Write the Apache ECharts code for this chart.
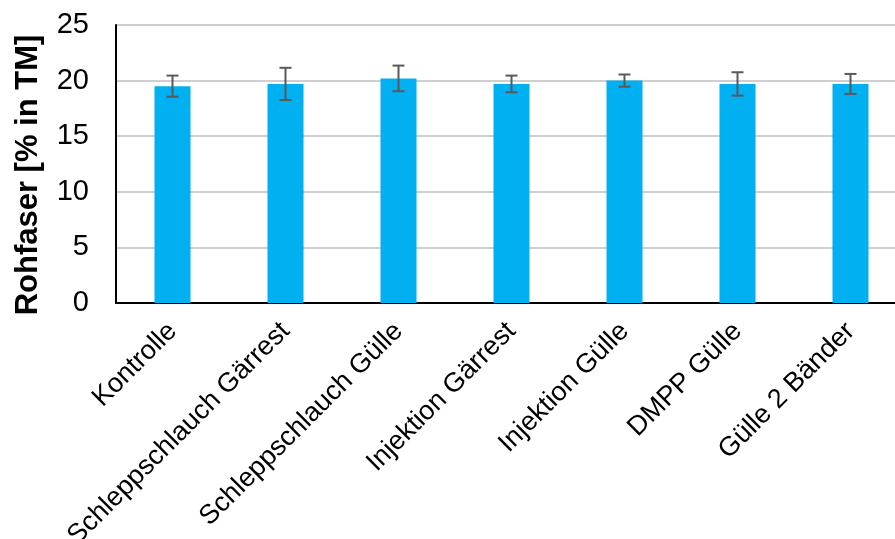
<!DOCTYPE html>
<html>
<head>
<meta charset="utf-8">
<script src="https://cdn.jsdelivr.net/npm/echarts@6/dist/echarts.min.js"></script>
<style>
  html, body { margin: 0; padding: 0; background: #ffffff; }
  #chart { width: 895px; height: 539px; }
</style>
</head>
<body>
<div id="chart"></div>
<script>
// Crude fibre content per fertilisation treatment
const categories = ['Kontrolle', 'Schleppschlauch Gärrest', 'Schleppschlauch Gülle',
  'Injektion Gärrest', 'Injektion Gülle', 'DMPP Gülle', 'Gülle 2 Bänder'];
const means = [19.5, 19.7, 20.2, 19.7, 20.0, 19.7, 19.7];
const errors = [0.95, 1.45, 1.15, 0.75, 0.55, 1.05, 0.9];
const yTicks = [0, 5, 10, 15, 20, 25];

const FONT = '"Liberation Sans", Arial, sans-serif';
const chart = echarts.init(document.getElementById('chart'));

const errorData = means.map((m, i) => [i, m - errors[i], m + errors[i]]);

chart.setOption({
  animation: false,
  backgroundColor: '#ffffff',
  // the plot area runs slightly past the right edge of the canvas
  grid: { left: 116, top: 25, bottom: 236, width: 791, outerBoundsMode: 'none', containLabel: false },
  xAxis: {
    type: 'category',
    data: categories,
    axisLine: { lineStyle: { color: '#000000', width: 2 } },
    axisTick: { show: false },
    axisLabel: {
      rotate: 45, interval: 0, margin: 24,
      color: '#000000', fontSize: 27, fontFamily: FONT
    }
  },
  yAxis: {
    type: 'value',
    min: yTicks[0], max: yTicks[yTicks.length - 1], interval: 5,
    axisLine: { show: true, lineStyle: { color: '#000000', width: 2 } },
    axisTick: { show: false },
    splitLine: { lineStyle: { color: '#cfcfcf', width: 2 } },
    axisLabel: { margin: 27, color: '#000000', fontSize: 29, fontFamily: FONT }
  },
  graphic: [{
    type: 'text',
    x: 28, y: 175,
    rotation: Math.PI / 2,
    style: {
      text: 'Rohfaser [% in TM]',
      fill: '#000000',
      font: 'bold 31px ' + FONT,
      textAlign: 'center',
      textVerticalAlign: 'middle'
    }
  }],
  series: [{
    type: 'bar',
    data: means,
    barWidth: 36,
    itemStyle: { color: '#00B0F0' },
    z: 2
  }, {
    type: 'custom',
    data: errorData,
    z: 3,
    renderItem: function (params, api) {
      const x = api.value(0);
      const lo = api.coord([x, api.value(1)]);
      const hi = api.coord([x, api.value(2)]);
      const half = 6;
      const style = { stroke: '#595959', lineWidth: 2 };
      return {
        type: 'group',
        children: [
          { type: 'line', shape: { x1: hi[0], y1: hi[1], x2: lo[0], y2: lo[1] }, style },
          { type: 'line', shape: { x1: hi[0] - half, y1: hi[1], x2: hi[0] + half, y2: hi[1] }, style },
          { type: 'line', shape: { x1: lo[0] - half, y1: lo[1], x2: lo[0] + half, y2: lo[1] }, style }
        ]
      };
    }
  }]
});
</script>
</body>
</html>
